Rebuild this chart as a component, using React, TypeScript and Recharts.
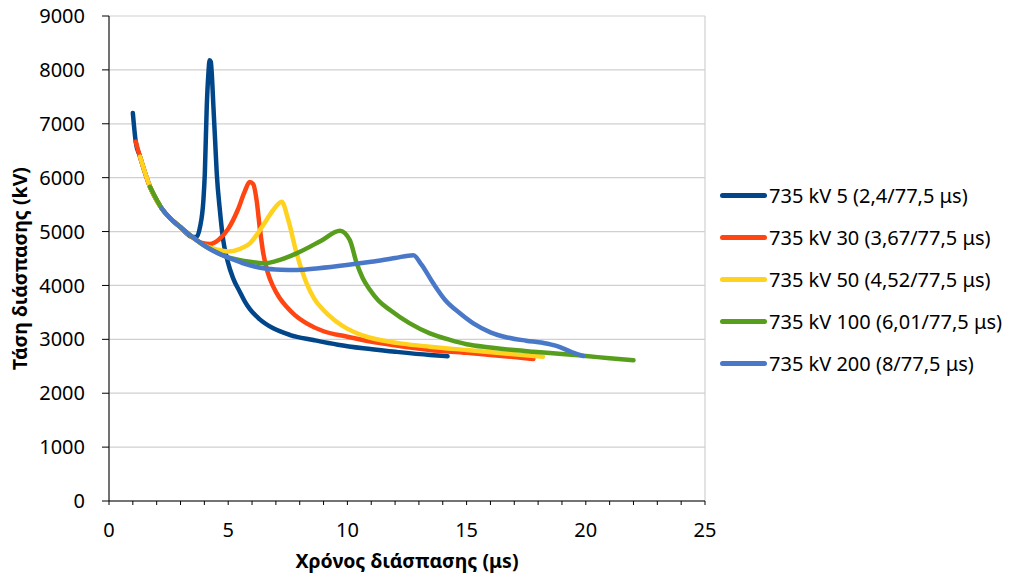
import React from 'react';
import { LineChart, Line, XAxis, YAxis, CartesianGrid, Label } from 'recharts';

const seriesNames = [
  '735 kV 5 (2,4/77,5 μs)',
  '735 kV 30 (3,67/77,5 μs)',
  '735 kV 50 (4,52/77,5 μs)',
  '735 kV 100 (6,01/77,5 μs)',
  '735 kV 200 (8/77,5 μs)',
];
const seriesColors = ['#02468a', '#ff4512', '#ffd220', '#589e1d', '#4a78c8'];

const xTicks = [0, 5, 10, 15, 20, 25];
const xMinorTicks = Array.from({ length: 26 }, (_, i) => i);
const yTicks = [0, 1000, 2000, 3000, 4000, 5000, 6000, 7000, 8000, 9000];

const s5X = [1.0, 1.12, 1.3, 1.72, 2.21, 3.0, 3.5, 3.68, 3.82, 3.96, 4.02, 4.1, 4.17, 4.22, 4.27, 4.31, 4.38, 4.45, 4.52, 4.65, 4.79, 4.97, 5.2, 5.49, 5.7, 5.91, 6.3, 6.89, 7.6, 8.57, 9.6, 10.67, 12.0, 13.46, 14.2];
const s5Y = [7200, 6670, 6390, 5830, 5430, 5080, 4900, 4904, 5090, 5585, 6080, 7316, 7935, 8180, 8150, 7935, 7316, 6700, 6080, 5400, 4843, 4460, 4140, 3880, 3700, 3560, 3380, 3204, 3080, 2988, 2900, 2833, 2770, 2709, 2685];

const s30X = [1.12, 1.3, 1.72, 2.21, 3.0, 3.5, 3.9, 4.24, 4.6, 5.0, 5.4, 5.7, 5.9, 6.05, 6.19, 6.33, 6.47, 6.65, 6.89, 7.15, 7.45, 7.8, 8.29, 9.0, 10.0, 11.5, 13.46, 15.0, 16.0, 17.0, 17.8];
const s30Y = [6670, 6390, 5830, 5430, 5080, 4890, 4790, 4770, 4850, 5050, 5400, 5750, 5920, 5880, 5585, 5050, 4600, 4250, 3977, 3770, 3606, 3450, 3297, 3150, 3049, 2920, 2802, 2750, 2710, 2670, 2635];

const s50X = [1.3, 1.72, 2.21, 3.0, 3.5, 4.0, 4.5, 5.0, 5.5, 5.91, 6.47, 6.89, 7.24, 7.52, 7.87, 8.29, 8.6, 8.99, 9.45, 9.97, 10.6, 11.37, 12.3, 13.46, 15.0, 16.5, 18.2];
const s50Y = [6390, 5830, 5430, 5080, 4900, 4740, 4670, 4630, 4680, 4782, 5121, 5400, 5554, 5214, 4596, 4040, 3760, 3544, 3360, 3204, 3080, 2988, 2920, 2863, 2800, 2740, 2675];

const s100X = [1.72, 2.21, 3.0, 3.5, 4.0, 4.5, 5.0, 5.5, 5.91, 6.47, 7.2, 7.87, 8.9, 9.69, 10.1, 10.39, 10.65, 10.95, 11.3, 11.79, 12.6, 13.46, 14.3, 15.0, 16.0, 17.0, 17.8, 19.0, 20.0, 21.0, 22.0];
const s100Y = [5830, 5430, 5080, 4900, 4740, 4620, 4520, 4470, 4441, 4410, 4480, 4596, 4830, 5016, 4843, 4410, 4130, 3915, 3720, 3544, 3300, 3111, 2990, 2910, 2850, 2800, 2770, 2730, 2690, 2650, 2610];

const s200X = [2.21, 2.6, 3.0, 3.5, 4.0, 4.5, 5.08, 5.7, 6.47, 7.2, 7.87, 8.8, 9.97, 11.0, 12.0, 12.77, 13.1, 13.6, 14.1, 14.72, 15.3, 16.0, 16.7, 17.5, 18.2, 18.8, 19.4, 19.9];
const s200Y = [5430, 5230, 5080, 4900, 4740, 4610, 4503, 4400, 4318, 4292, 4287, 4320, 4379, 4440, 4510, 4560, 4390, 4040, 3730, 3483, 3290, 3130, 3035, 2975, 2935, 2875, 2765, 2690];

const toPoints = (xs: number[], ys: number[]) => xs.map((x, i) => ({ x, y: ys[i] }));
const seriesData = [
  toPoints(s5X, s5Y),
  toPoints(s30X, s30Y),
  toPoints(s50X, s50Y),
  toPoints(s100X, s100Y),
  toPoints(s200X, s200Y),
];

const FONT = '"Noto Sans", sans-serif';

const YTitle = (props: any) => {
  const vb = props.viewBox;
  const cx = vb.x + 11;
  const cy = vb.y + vb.height / 2 + 10;
  return (
    <text x={cx} y={cy} transform={`rotate(-90, ${cx}, ${cy})`} textAnchor="middle" dominantBaseline="central"
      fontFamily={FONT} fontWeight="bold" fontSize={19.5} fill="#000">
      Τάση διάσπασης (kV)
    </text>
  );
};

const XTitle = (props: any) => {
  const vb = props.viewBox;
  return (
    <text x={vb.x + vb.width / 2} y={vb.y + 59} textAnchor="middle" dominantBaseline="central"
      fontFamily={FONT} fontWeight="bold" fontSize={19.5} fill="#000">
      Χρόνος διάσπασης (μs)
    </text>
  );
};

export default function App() {
  return (
    <div style={{ position: 'relative', width: 1011, height: 568, background: '#fff' }}>
      <style>{'.recharts-surface { overflow: visible; }'}</style>
      <LineChart width={1011} height={568} margin={{ top: 8, right: 314, bottom: 15, left: 0 }}>
        <CartesianGrid stroke="#d0d0d0" strokeWidth={1.2} xAxisId="grid" />
        <XAxis xAxisId="grid" type="number" domain={[0, 25]} ticks={xTicks} interval={0} hide />
        <XAxis
          type="number"
          dataKey="x"
          domain={[0, 25]}
          ticks={xMinorTicks}
          interval={0}
          tickFormatter={(v: number) => (v % 5 === 0 ? String(v) : '')}
          tickSize={4}
          tickMargin={18}
          height={60}
          stroke="#000"
          tick={{ fill: '#000', fontFamily: FONT, fontSize: 20 }}
          allowDataOverflow
        >
          <Label content={<XTitle />} />
        </XAxis>
        <YAxis
          type="number"
          domain={[0, 9000]}
          ticks={yTicks}
          interval={0}
          width={101}
          tickSize={7}
          tickMargin={17}
          stroke="#000"
          tick={{ fill: '#000', fontFamily: FONT, fontSize: 20 }}
        >
          <Label content={<YTitle />} />
        </YAxis>
        {seriesData.map((d, i) => (
          <Line
            key={seriesNames[i]}
            data={d}
            dataKey="y"
            type="monotone"
            stroke={seriesColors[i]}
            strokeWidth={4.5}
            strokeLinecap="round"
            strokeLinejoin="round"
            dot={false}
            activeDot={false}
            isAnimationActive={false}
            name={seriesNames[i]}
          />
        ))}
      </LineChart>
      <div style={{ position: 'absolute', left: 712, top: 166, fontFamily: FONT, fontSize: 20, color: '#000' }}>
        {seriesNames.map((n, i) => (
          <div key={n} style={{ display: 'flex', alignItems: 'center', height: 42 }}>
            <div style={{ width: 47, height: 5, borderRadius: 3, background: seriesColors[i], marginRight: 2 }} />
            <span style={{ whiteSpace: 'nowrap' }}>{n}</span>
          </div>
        ))}
      </div>
    </div>
  );
}
